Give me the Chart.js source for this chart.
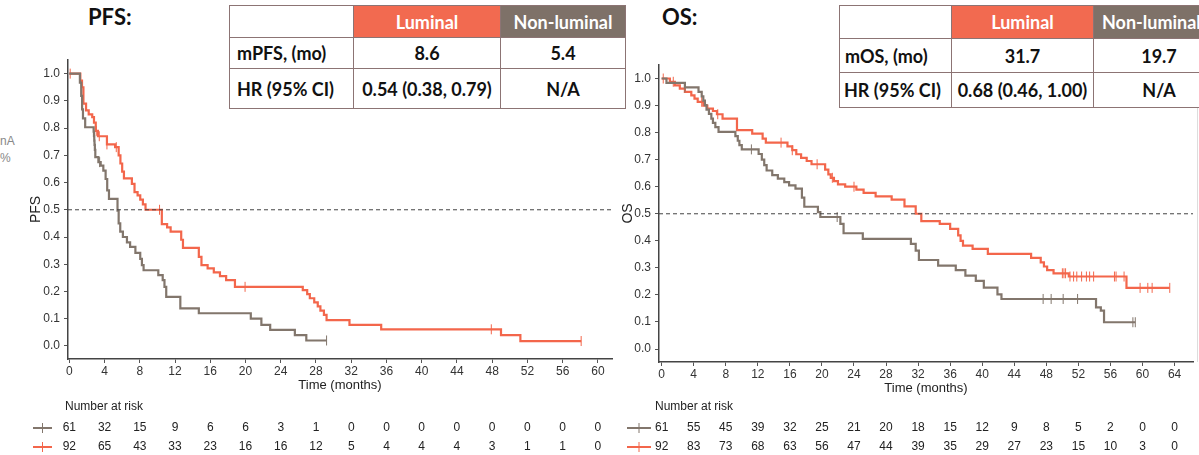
<!DOCTYPE html>
<html>
<head>
<meta charset="utf-8">
<script src="https://cdn.jsdelivr.net/npm/chart.js@4.4.0/dist/chart.umd.min.js"></script>
<style>
body{margin:0;background:#fff;width:1199px;height:455px;overflow:hidden;position:relative;font-family:"Liberation Sans",Arial,sans-serif}
canvas{position:absolute;top:0}
#pfs{left:0}
#os{left:620px}
.ttl{position:absolute;top:3px;font-family:Lato,"Open Sans",sans-serif;font-weight:bold;font-size:22px;color:#111}
.cut{position:absolute;left:0;font-size:12px;color:#888}
table{position:absolute;top:5px;border-collapse:collapse;table-layout:fixed;font-family:Lato,"Open Sans",sans-serif;font-weight:bold;font-size:18px;color:#111;background:#fff;z-index:2}
td{border:1px solid #8c7474;text-align:center;padding:0;white-space:nowrap;overflow:hidden}
td.lab{text-align:left;padding-left:7px}
td.lum{background:#f26a50;color:#fff}
td.non{background:#7e7168;color:#fff}
#edge{position:absolute;left:1197px;top:108px;width:1px;height:254px;background:#ddd}
</style>
</head>
<body>
<div class="ttl" style="left:88px">PFS:</div>
<div class="ttl" style="left:662px">OS:</div>
<div class="cut" style="top:134px">nA</div>
<div class="cut" style="top:151px">%</div>
<div id="edge"></div>

<table style="left:229px;width:396px">
<colgroup><col style="width:124px"><col style="width:147px"><col style="width:125px"></colgroup>
<tr style="height:32px"><td></td><td class="lum">Luminal</td><td class="non">Non-luminal</td></tr>
<tr style="height:31px"><td class="lab">mPFS, (mo)</td><td>8.6</td><td>5.4</td></tr>
<tr style="height:40px"><td class="lab">HR (95% CI)</td><td>0.54 (0.38, 0.79)</td><td>N/A</td></tr>
</table>

<table style="left:839px;width:385px">
<colgroup><col style="width:112px"><col style="width:142px"><col style="width:131px"></colgroup>
<tr style="height:33px"><td></td><td class="lum">Luminal</td><td class="non" style="text-align:left;padding-left:8px">Non-luminal</td></tr>
<tr style="height:34px"><td class="lab" style="padding-left:5px">mOS, (mo)</td><td>31.7</td><td>19.7</td></tr>
<tr style="height:35px"><td class="lab" style="padding-left:4px">HR (95% CI)</td><td>0.68 (0.46, 1.00)</td><td>N/A</td></tr>
</table>

<canvas id="pfs" width="620" height="455"></canvas>
<canvas id="os" width="579" height="455"></canvas>

<script>
// PFS - event times (months) and survival after each step
var pfsTicks = [0,4,8,12,16,20,24,28,32,36,40,44,48,52,56,60];
var pfsLumT = [1.25,1.44,1.6,1.9,2.2,2.6,2.8,3.0,3.25,4.27,5.2,5.6,5.8,6.0,6.2,7.1,7.4,7.75,8.05,8.35,8.65,10.5,11.1,11.5,12.7,12.9,14.7,15.0,15.7,16.4,17.1,17.8,18.8,26.5,27.0,27.3,27.8,28.2,28.5,28.9,29.2,31.8,35.4,49.0,51.2,58.1];
var pfsLumS = [0.974,0.95,0.89,0.865,0.85,0.84,0.82,0.79,0.77,0.74,0.73,0.70,0.67,0.64,0.615,0.595,0.565,0.553,0.537,0.52,0.50,0.447,0.435,0.42,0.39,0.36,0.327,0.297,0.285,0.27,0.256,0.242,0.217,0.205,0.19,0.175,0.16,0.145,0.13,0.114,0.095,0.077,0.061,0.04,0.018,0.018];
var pfsLumCens = [0.1,3.06,3.4,4.27,5.33,10.24,19.95,47.9,58.1];
var pfsNonT = [1.2,1.35,1.45,1.55,1.8,2.76,2.8,2.83,2.86,2.9,2.95,3.3,3.56,3.86,4.12,4.3,4.5,5.47,5.6,5.78,6.08,6.54,6.9,7.5,8.05,8.24,8.43,10.1,10.6,10.8,11.0,12.6,14.7,20.6,21.8,22.8,25.6,26.9,29.2];
var pfsNonS = [0.967,0.918,0.869,0.836,0.803,0.787,0.77,0.754,0.738,0.72,0.693,0.675,0.662,0.644,0.613,0.571,0.54,0.497,0.45,0.42,0.40,0.38,0.364,0.342,0.32,0.297,0.278,0.26,0.242,0.217,0.18,0.138,0.12,0.10,0.077,0.059,0.04,0.02,0.02];
var pfsNonCens = [3.44,29.2];
var pfsRiskNon = [61,32,15,9,6,6,3,1,0,0,0,0,0,0,0,0];
var pfsRiskLum = [92,65,43,33,23,16,16,12,5,4,4,4,3,1,1,0];

// OS
var osTicks = [0,4,8,12,16,20,24,28,32,36,40,44,48,52,56,60,64];
var osLumT = [1.03,1.65,2.27,2.9,3.7,4.1,4.5,5.2,5.7,6.4,6.9,7.6,9.4,11.3,12.6,13.0,15.7,16.3,16.8,17.4,18.1,18.7,20.4,20.8,21.1,21.5,22.0,22.9,24.3,25.2,26.7,28.7,30.3,31.7,32.4,34.7,36.0,37.0,37.3,37.6,38.8,40.7,46.1,47.3,47.7,48.1,48.9,50.8,58.0,63.4];
var osLumS = [0.988,0.975,0.963,0.951,0.938,0.926,0.914,0.90,0.889,0.88,0.868,0.852,0.809,0.796,0.778,0.763,0.749,0.735,0.72,0.707,0.695,0.683,0.663,0.646,0.633,0.621,0.609,0.60,0.589,0.577,0.564,0.552,0.527,0.50,0.473,0.463,0.444,0.42,0.40,0.382,0.37,0.352,0.337,0.32,0.305,0.292,0.28,0.268,0.226,0.226];
var osLumCens = [0.2,1.45,5.0,7.0,14.9,16.3,19.4,21.3,24.0,50.0,50.2,50.4,50.95,51.4,51.8,52.4,53.0,53.4,53.9,56.5,56.7,57.7,59.7,60.66,61.2,63.4];
var osNonT = [0.6,2.9,4.6,5.0,5.2,5.4,5.6,5.9,6.2,6.4,6.7,7.1,9.2,9.5,9.7,10.0,12.1,12.5,12.8,13.1,13.8,14.5,15.3,15.9,16.7,17.5,17.8,19.5,19.8,22.3,22.7,25.1,31.1,31.7,32.1,34.5,36.7,37.9,39.2,40.2,41.9,42.4,54.2,54.8,55.2,59.1];
var osNonS = [0.984,0.967,0.951,0.934,0.918,0.902,0.885,0.869,0.852,0.836,0.82,0.803,0.787,0.77,0.754,0.738,0.721,0.70,0.68,0.66,0.643,0.63,0.617,0.605,0.593,0.56,0.526,0.506,0.488,0.463,0.428,0.407,0.389,0.364,0.329,0.308,0.292,0.271,0.252,0.227,0.202,0.185,0.154,0.142,0.099,0.099];
var osNonCens = [2.9,11.2,21.9,47.6,48.6,50.1,51.9,58.8,59.1];
var osRiskNon = [61,55,45,39,32,25,21,20,18,15,12,9,8,5,2,0,0];
var osRiskLum = [92,83,73,68,63,56,47,44,39,35,29,27,23,15,10,3,0];

var RED = '#f3664b';
var GRAY = '#82766c';
var FONT = '"Liberation Sans", Arial';

function steps(T, S) {
  var pts = [{x: 0, y: 1}];
  for (var i = 0; i < T.length; i++) pts.push({x: T[i], y: S[i]});
  return pts;
}
function survAt(T, S, t) {
  var s = 1;
  for (var i = 0; i < T.length; i++) if (T[i] <= t) s = S[i];
  return s;
}
function cens(T, S, C) {
  return C.map(function(t){ return {x: t, y: survAt(T, S, t)}; });
}

var riskPlugin = {
  id: 'risk',
  afterDraw: function(chart) {
    var o = chart.options.plugins.risk;
    var ctx = chart.ctx, xs = chart.scales.x;
    ctx.save();
    ctx.font = '12px ' + FONT;
    ctx.fillStyle = '#222';
    ctx.textBaseline = 'middle';
    ctx.textAlign = 'left';
    ctx.fillText('Number at risk', o.labelX, 407);
    var rows = [[o.non, GRAY, 428], [o.lum, RED, 447]];
    rows.forEach(function(r) {
      ctx.strokeStyle = r[1];
      ctx.lineWidth = 2;
      ctx.beginPath();
      ctx.moveTo(o.symX, r[2]); ctx.lineTo(o.symX + o.symW, r[2]);
      ctx.stroke();
      ctx.lineWidth = 1;
      ctx.beginPath();
      ctx.moveTo(o.symX + o.symW / 2, r[2] - 5); ctx.lineTo(o.symX + o.symW / 2, r[2] + 5);
      ctx.stroke();
      ctx.textAlign = 'center';
      r[0].forEach(function(v, i) {
        ctx.fillText(String(v), xs.getPixelForValue(o.ticks[i]), r[2]);
      });
    });
    ctx.restore();
  }
};

function kmChart(id, c) {
  var lumT = c.lumT, lumS = c.lumS, nonT = c.nonT, nonS = c.nonS;
  return new Chart(document.getElementById(id), {
    type: 'line',
    data: {
      datasets: [
        {data: [{x: c.xmin, y: 0.5}, {x: c.xmax, y: 0.5}], borderColor: '#444', borderWidth: 1, borderDash: [4, 3], pointRadius: 0},
        {data: steps(nonT, nonS), stepped: true, borderColor: GRAY, borderWidth: 2.2, pointRadius: 0},
        {type: 'scatter', data: cens(nonT, nonS, c.nonC), pointStyle: 'line', rotation: 90, radius: 5, borderColor: GRAY, borderWidth: 1},
        {data: steps(lumT, lumS), stepped: true, borderColor: RED, borderWidth: 2.2, pointRadius: 0},
        {type: 'scatter', data: cens(lumT, lumS, c.lumC), pointStyle: 'line', rotation: 90, radius: 5, borderColor: RED, borderWidth: 1}
      ]
    },
    options: {
      responsive: false,
      animation: false,
      layout: {padding: c.pad},
      plugins: {
        legend: {display: false},
        tooltip: {enabled: false},
        risk: {ticks: c.ticks, non: c.riskNon, lum: c.riskLum, labelX: c.labelX, symX: c.symX, symW: c.symW}
      },
      scales: {
        x: {
          type: 'linear', min: c.xmin, max: c.xmax,
          afterBuildTicks: function(a) { a.ticks = c.ticks.map(function(v){ return {value: v}; }); },
          afterFit: function(s) { s.height = 40; },
          grid: {drawOnChartArea: false, tickLength: 4, color: '#555'},
          border: {color: '#444', width: 1.5},
          ticks: {color: '#333', font: {size: 12, family: FONT}, padding: 1, maxRotation: 0, autoSkip: false},
          title: {display: true, text: 'Time (months)', color: '#222', font: {size: 13, family: FONT}, padding: {top: 0, bottom: 6}}
        },
        y: {
          type: 'linear', min: -0.048, max: 1.05,
          afterBuildTicks: function(a) { a.ticks = c.yTicks.map(function(v){ return {value: v}; }); },
          afterFit: function(s) { s.width = c.yw; },
          grid: {drawOnChartArea: false, tickLength: 4, color: '#555'},
          border: {color: '#444', width: 1.5},
          ticks: {color: '#333', font: {size: 12, family: FONT}, padding: 4, callback: function(v){ return v.toFixed(1); }},
          title: {display: true, text: c.yTitle, color: '#222', font: {size: 14, family: FONT}, padding: {top: c.yTitlePad, bottom: 0}}
        }
      }
    },
    plugins: [riskPlugin]
  });
}

var yTicks = [0, 0.1, 0.2, 0.3, 0.4, 0.5, 0.6, 0.7, 0.8, 0.9, 1.0];

kmChart('pfs', {
  lumT: pfsLumT, lumS: pfsLumS, lumC: pfsLumCens,
  nonT: pfsNonT, nonS: pfsNonS, nonC: pfsNonCens,
  riskNon: pfsRiskNon, riskLum: pfsRiskLum,
  ticks: pfsTicks, yTicks: yTicks, xmin: -0.15, xmax: 61.6,
  yTitle: 'PFS', yTitlePad: 28, yw: 68,
  pad: {left: 0, top: 60, right: 8, bottom: 56},
  labelX: 65, symX: 33, symW: 19
});

kmChart('os', {
  lumT: osLumT, lumS: osLumS, lumC: osLumCens,
  nonT: osNonT, nonS: osNonS, nonC: osNonCens,
  riskNon: osRiskNon, riskLum: osRiskLum,
  ticks: osTicks, yTicks: yTicks, xmin: -0.33, xmax: 66.3,
  yTitle: 'OS', yTitlePad: 0, yw: 39,
  pad: {left: 0, top: 65, right: 2, bottom: 53},
  labelX: 35, symX: 7, symW: 24
});
</script>
</body>
</html>
